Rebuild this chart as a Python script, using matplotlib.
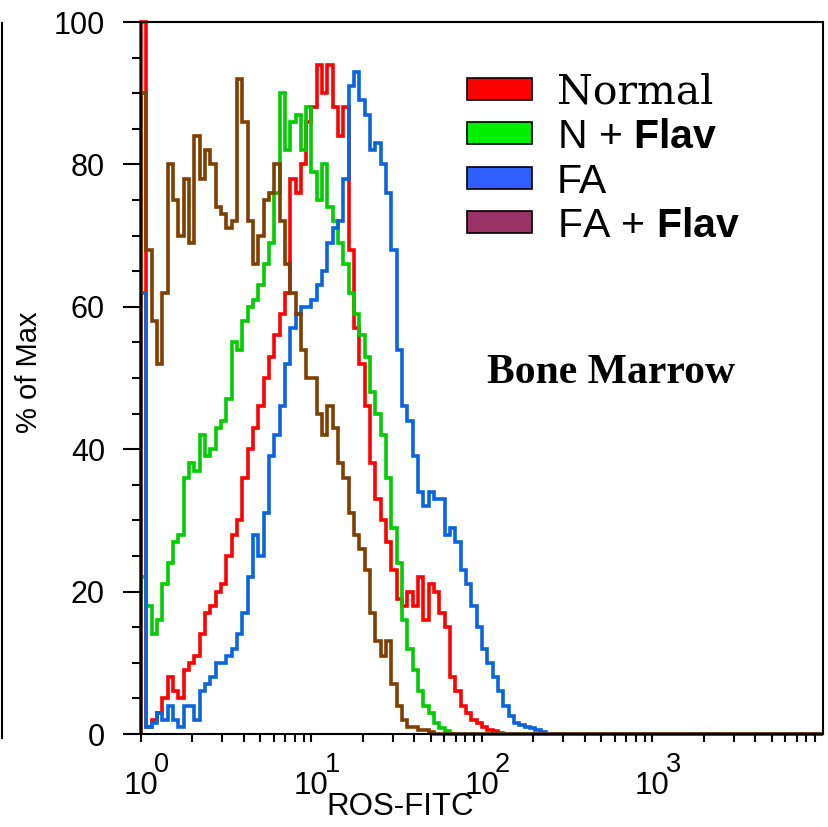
import numpy as np
import matplotlib
matplotlib.use('Agg')
import matplotlib.pyplot as plt
from matplotlib.patches import Rectangle
from matplotlib.lines import Line2D
from matplotlib.ticker import LogLocator, NullFormatter, MultipleLocator

plt.rcParams['font.family'] = ['Liberation Sans', 'DejaVu Sans']
plt.rcParams['mathtext.fontset'] = 'custom'
plt.rcParams['mathtext.rm'] = 'Liberation Sans'
plt.rcParams['mathtext.bf'] = 'Liberation Sans:bold'

# histogram channels: 128 log-spaced bins over 4 decades
n_channels = 128
decades = 4

# % of max per channel (channels past the list are empty)
normal = [100, 1, 2, 3, 5, 8, 6, 5, 9, 10,
          11, 14, 17, 18, 20, 21, 25, 28, 30, 36,
          40, 43, 46, 50, 53, 56, 59, 62, 78, 76,
          80, 86, 88, 94, 90, 94, 88, 84, 88, 68,
          57, 52, 46, 38, 33, 30, 27, 23, 19, 18,
          20, 18, 22, 16, 21, 20, 17, 15, 8, 6,
          4, 3, 2, 1.5, 1, 0.6, 0.4, 0.2]
n_flav = [22, 18, 14, 16, 21, 24, 27, 28, 36, 38,
          37, 42, 39, 40, 43, 44, 47, 55, 54, 58,
          60, 61, 63, 66, 69, 76, 90, 82, 86, 87,
          82, 88, 79, 75, 80, 74, 72, 69, 66, 62,
          59, 56, 53, 48, 45, 42, 36, 29, 24, 16,
          12, 9, 6, 4, 3, 1.5, 0.8, 0.4]
fa = [62, 1, 1.5, 3, 2, 4, 2, 1, 4, 4,
      2, 6, 7, 8, 10, 10, 11, 12, 14, 17,
      22, 28, 25, 31, 39, 42, 46, 52, 57, 59,
      60, 60, 61, 63, 65, 69, 71, 72, 78, 91,
      93, 89, 87, 82, 83, 80, 76, 68, 54, 46,
      44, 39, 34, 32, 34, 33, 33, 28, 29, 27,
      23, 21, 18, 15, 12, 10, 8, 6, 4, 2.5,
      1.5, 1.2, 1, 0.8, 0.5, 0.3]
fa_flav = [90, 68, 58, 52, 62, 80, 75, 70, 78, 69,
           84, 78, 82, 80, 74, 73, 71, 72, 92, 86,
           72, 66, 70, 75, 76, 80, 72, 66, 62, 59,
           54, 50, 50, 45, 42, 46, 43, 38, 36, 31,
           28, 26, 23, 17, 13, 11, 13, 7, 4, 2,
           1, 1, 0.5, 0.5, 0.3]

labels = ['Normal', 'N + $\\mathbf{Flav}$', 'FA', 'FA + $\\mathbf{Flav}$']
line_colors = ['#ff0000', '#00cc00', '#0a64dc', '#7f3f00']
patch_colors = ['#ff0000', '#00ee00', '#3060ff', '#993366']
x_decades = [0, 1, 2, 3]
y_major = [0, 20, 40, 60, 80, 100]


def full(vals):
    return np.concatenate([vals, np.zeros(n_channels - len(vals))])


edges = np.logspace(0, decades, n_channels + 1)

fig = plt.figure(figsize=(8.29, 8.27), dpi=100)
ax = fig.add_axes([141 / 829, 93 / 827, 682 / 829, 712 / 827])

for vals, c in zip([normal, n_flav, fa, fa_flav], line_colors):
    ax.stairs(full(vals), edges, color=c, lw=2.6, baseline=0, clip_on=False)

ax.set_xscale('log')
ax.set_xlim(1, 10 ** decades)
ax.set_ylim(0, 100)

ax.set_xticks([10 ** e for e in x_decades])
ax.set_xticklabels(['10'] * len(x_decades))
ax.xaxis.set_minor_locator(LogLocator(base=10, subs=np.arange(2, 10)))
ax.xaxis.set_minor_formatter(NullFormatter())
ax.set_yticks(y_major)
ax.yaxis.set_minor_locator(MultipleLocator(5))

ax.tick_params(axis='x', which='both', direction='out', length=6, width=1.5,
               labelsize=22.5, pad=21)
ax.tick_params(axis='y', which='major', direction='out', length=13, width=1.5,
               labelsize=22, pad=13)
ax.tick_params(axis='y', which='minor', direction='out', length=6.5, width=1.5)
for s in ax.spines.values():
    s.set_linewidth(1.5)

# exponents next to the "10" tick labels
for e in x_decades:
    ax.annotate(str(e), xy=(10 ** e, 0), xycoords=('data', 'axes fraction'),
                xytext=(9.4, -13), textcoords='offset points',
                ha='left', va='top', fontsize=19.5, annotation_clip=False)

ax.set_xlabel('ROS-FITC', fontsize=22.5, va='center')
ax.xaxis.set_label_coords(0.380, -0.1025)
ax.set_ylabel('% of Max', fontsize=21, va='center')
ax.yaxis.set_label_coords(-0.164, 0.508)

ax.text(0.507, (734 - 383) / 712, 'Bone Marrow', transform=ax.transAxes,
        family='Liberation Serif', weight='bold', fontsize=30,
        ha='left', va='baseline')

# legend boxes
for i, (lab, pc) in enumerate(zip(labels, patch_colors)):
    yc = 734 - (89 + 44.3 * i)
    ax.add_patch(Rectangle((0.478, (yc - 11) / 712), 0.095, 22 / 712,
                           transform=ax.transAxes, facecolor=pc,
                           edgecolor='black', lw=1.2, clip_on=False))
    fam = 'DejaVu Serif' if i == 0 else 'Liberation Sans'
    ax.text(0.610, (yc - 15) / 712, lab, transform=ax.transAxes,
            family=fam, fontsize=29.5, ha='left', va='baseline')

# edge of the neighbouring panel
fig.add_artist(Line2D([2 / 829, 2 / 829], [1 - 23 / 827, 1 - 738 / 827],
                      color='black', lw=1.5))

fig.savefig('out.png', dpi=100)
